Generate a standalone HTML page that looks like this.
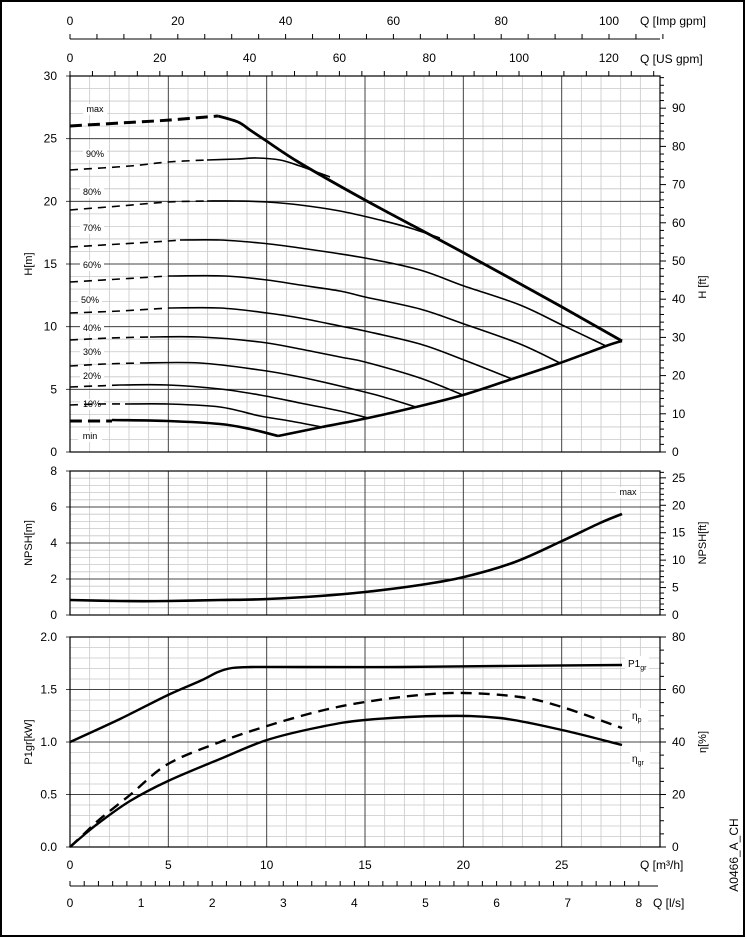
<!DOCTYPE html>
<html><head><meta charset="utf-8"><style>
body{margin:0;background:#fff;}
svg{display:block;font-family:"Liberation Sans",sans-serif;}
</style></head><body>
<svg id="s" width="747" height="939" viewBox="0 0 747 939" xmlns="http://www.w3.org/2000/svg">
<rect x="1" y="1" width="743" height="935" fill="#fff" stroke="#000" stroke-width="2"/>
<g id="g"></g>
</svg>
<script>
var g=document.getElementById('g'),h='';
var X0=70,X1=660,K=19.667;
function X(q){return X0+q*K;}
function L(x1,y1,x2,y2,c,w){h+='<line x1="'+x1+'" y1="'+y1+'" x2="'+x2+'" y2="'+y2+'" stroke="'+c+'" stroke-width="'+w+'"/>';}
function T(x,y,t,a,s,extra){h+='<text x="'+x+'" y="'+y+'" font-size="'+(s||11)+'" text-anchor="'+(a||'middle')+'" '+(extra||'')+'>'+t+'</text>';}
function panel(top,bot,nMinor,nMajor){
 for(var q=0;q<=30;q++){ if(q%5) L(X(q),top,X(q),bot,'#c8c8c8',0.8);}
 for(var i=0;i<=nMinor;i++){var y=top+(bot-top)*i/nMinor;L(X0,y,X1,y,'#c8c8c8',0.8);}
 for(var q=5;q<30;q+=5)L(X(q),top,X(q),bot,'#444',1);
 for(var i=0;i<=nMajor;i++){var y=top+(bot-top)*i/nMajor;L(X0-4,y,X1,y,'#444',1);}
 h+='<rect x="'+X0+'" y="'+top+'" width="'+(X1-X0)+'" height="'+(bot-top)+'" fill="none" stroke="#000" stroke-width="1.2"/>';
}
function P(s,w,dash){
 var p=s.trim().split(/\s+/).map(function(a){var b=a.split(',');return [+b[0],+b[1]];});
 var d='M'+p[0][0]+','+p[0][1];
 for(var i=0;i<p.length-1;i++){
  var p0=p[i-1]||p[i],p1=p[i],p2=p[i+1],p3=p[i+2]||p2;
  var c1=[p1[0]+(p2[0]-p0[0])/6,p1[1]+(p2[1]-p0[1])/6];
  var c2=[p2[0]-(p3[0]-p1[0])/6,p2[1]-(p3[1]-p1[1])/6];
  d+=' C'+c1[0].toFixed(1)+','+c1[1].toFixed(1)+' '+c2[0].toFixed(1)+','+c2[1].toFixed(1)+' '+p2[0]+','+p2[1];
 }
 h+='<path fill="none" stroke="#000" stroke-width="'+w+'" stroke-linejoin="round" '+(dash?'stroke-dasharray="'+dash+'"':'')+' d="'+d+'"/>';
}
L(X0,39,X0+590,39,'#000',1);
var ig=107.8/20;
for(var v=0;v<=110;v+=5){L(X0+v*ig,34,X0+v*ig,39,'#000',1);}
for(var v=0;v<=100;v+=20)T(X0+v*ig,25,v,'middle',12);
T(640,25,'Q [Imp gpm]','start',12);
var ug=89.8/20;
for(var v=0;v<=130;v+=5){L(X0+v*ug,71,X0+v*ug,76,'#000',1);}
for(var v=0;v<=120;v+=20)T(X0+v*ug,62,v,'middle',12);
T(640,63,'Q [US gpm]','start',12);
panel(76,452,30,6);
panel(471,615,20,4);
panel(637,847,20,4);
for(var v=0;v<=30;v+=5)T(57,452-v*12.533+4,v,'end',12);
for(var v=0;v<=8;v+=2)T(57,615-v*18+4,v,'end',12);
['0.0','0.5','1.0','1.5','2.0'].forEach(function(t,i){T(57,847-i*52.5+4,t,'end',12);});
var fpx=12.533/3.2808;
for(var f=0;f<=98;f+=2){var y=452-f*fpx;if(y<76)break;L(660,y,f%10?664:666,y,'#000',1);}
for(var f=0;f<=90;f+=10)T(672,452-f*fpx+4,f,'start',12);
var npx=18*0.3048;
for(var f=0;f<=26;f++){var y=615-f*npx;if(y<471)break;L(660,y,f%5?664:666,y,'#000',1);}
for(var f=0;f<=25;f+=5)T(672,615-f*npx+4,f,'start',12);
for(var e=0;e<=80;e+=5){var y=847-e*2.625;L(660,y,e%20?664:666,y,'#000',1);}
for(var e=0;e<=80;e+=20)T(672,847-e*2.625+4,e,'start',12);
for(var q=0;q<=25;q+=5)T(X(q),869,q,'middle',12);
T(640,869,'Q [m³/h]','start',12);
L(X0,886,X0+588,886,'#000',1);
var ls=71.1;
for(var v=0;v<=8.2;v+=0.2){L(X0+v*ls,881,X0+v*ls,886,'#000',1);}
for(var v=0;v<=8;v++)T(X0+v*ls,907,v,'middle',12);
T(653,907,'Q [l/s]','start',12);
function R(x,y,t,ang){h+='<text x="'+x+'" y="'+y+'" font-size="11" text-anchor="middle" transform="rotate('+ang+' '+x+' '+y+')">'+t+'</text>';}
R(32,264,'H[m]',-90);R(706,287,'H [ft]',-90);
R(32,543,'NPSH[m]',-90);R(706,543,'NPSH[ft]',-90);
R(32,742,'P1gr[kW]',-90);R(706,742,'η[%]',-90);
h+='<text x="738" y="855" font-size="12" text-anchor="middle" transform="rotate(-90 738 855)">A0466_A_CH</text>';
function LB(x,y,t){h+='<rect x="'+(x-12)+'" y="'+(y-8)+'" width="24" height="11" fill="#fff"/>';T(x,y,t,'middle',9);}
LB(95,112,'max');LB(95,157,'90%');LB(92,195,'80%');LB(92,231,'70%');LB(92,268,'60%');
LB(90,303,'50%');LB(92,331,'40%');LB(92,355,'30%');LB(92,379,'20%');LB(92,407,'10%');LB(90,439,'min');
P('70,126 120,123 170,120 218,116',3,'12,6');
P('218,116 238,122 250,130 265,140 300,163 365,200 464,253 562,307 622,341',2.8);
P('70,170 130,166 168,162 207,160',1.6,'8,6');
P('207,160 237,159 257,158 280,160 300,166 330,177',1.6);
P('70,210 120,206 168,202 207,201',1.6,'8,6');
P('207,201 237,201 267,202 300,205 340,211 380,220 410,228 440,238',1.6);
P('70,247 120,244 168,241 180,240',1.6,'8,6');
P('180,240 220,240 260,243 300,248 365,258 420,270 464,286 520,305 562,325 606,346',1.6);
P('70,282 120,279 168,276',1.6,'8,6');
P('168,276 225,276 267,280 300,285 340,291 365,297 420,309 464,324 520,344 560,363',1.6);
P('70,313 120,311 168,308',1.6,'8,6');
P('168,308 220,308 267,313 300,318 340,326 365,331 420,344 464,360 512,379',1.6);
P('70,340 110,338 150,337',1.6,'8,6');
P('150,337 200,337 260,342 300,349 340,357 365,362 420,378 463,395',1.6);
P('70,366 105,364 140,363',1.6,'8,6');
P('140,363 200,363 260,370 300,377 340,386 380,396 416,407',1.6);
P('70,387 95,386 120,385',1.6,'8,6');
P('120,385 168,385 220,389 260,395 300,403 340,411 368,418',1.6);
P('70,405 100,404 125,404',1.6,'8,6');
P('125,404 168,404 220,407 260,416 290,421 322,427',1.6);
P('70,421 112,421',3,'12,6');
P('112,420 168,421 220,424 250,429 278,436',2.6);
h+='<polyline fill="none" stroke="#000" stroke-width="2.6" points="278,436 322,427"/>';
P('322,427 368,418 416,407 463,395 512,379 560,363 606,346 622,341',2.6);
LB(628,495,'max');
P('70,600 120,601 168,601 220,600 267,599 320,596 365,592 420,585 464,577 515,562 562,541 600,523 622,514',2.6);
P('70,742 120,719 168,695 200,681 218,672 232,668 250,667 300,667 400,667 500,666 622,665',2.4);
P('70,847 85,833 100,819 130,795 168,764 220,742 267,726 320,711 365,702 420,695 464,693 520,697 562,707 622,728',2.4,'11,7');
P('70,847 85,834 100,822 130,801 168,781 220,759 267,740 320,727 365,720 440,716 500,718 562,730 622,745',2.4);
h+='<rect x="625" y="656" width="24" height="14" fill="#fff"/>';
T(628,667,'P1<tspan font-size="7" dy="3">gr</tspan>','start',10);
h+='<rect x="630" y="708" width="18" height="14" fill="#fff"/>';
T(632,719,'η<tspan font-size="7" dy="3">p</tspan>','start',10);
h+='<rect x="630" y="752" width="20" height="14" fill="#fff"/>';
T(632,762,'η<tspan font-size="7" dy="3">gr</tspan>','start',10);
g.innerHTML=h;
</script>
</body></html>
